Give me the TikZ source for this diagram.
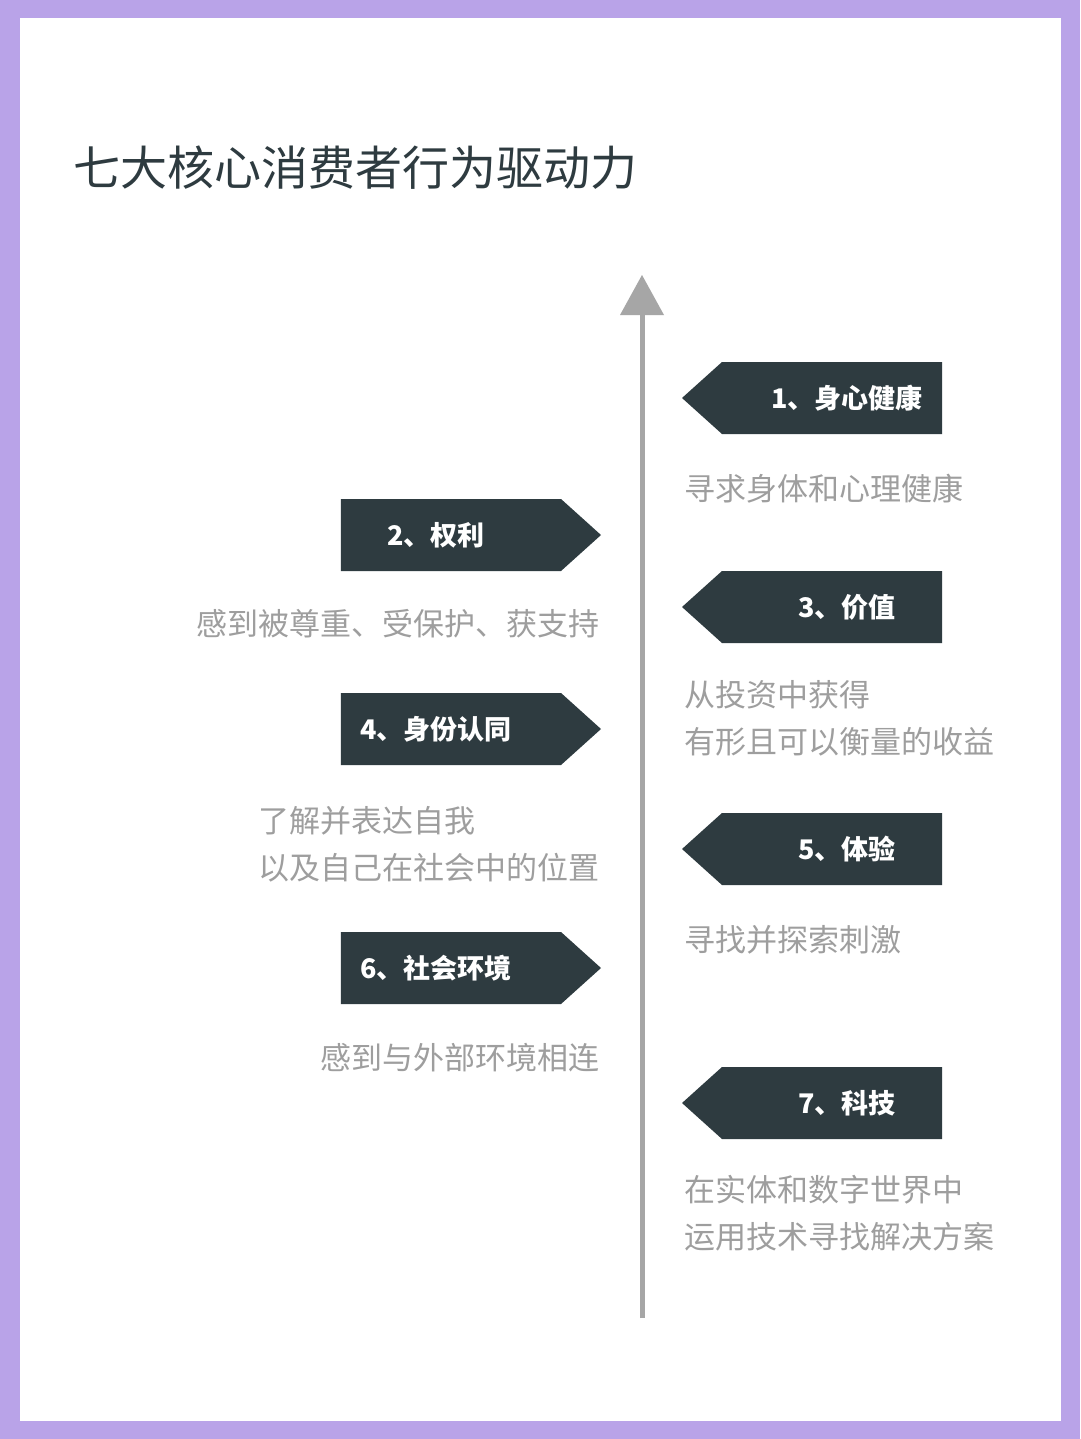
\documentclass[tikz,border=0pt]{standalone}
\usepackage{fontspec}
\setmainfont{Noto Sans CJK SC}
\usetikzlibrary{shapes.symbols}
\definecolor{tagdark}{HTML}{2E3B40}
\definecolor{axisgray}{HTML}{A6A6A6}
\definecolor{descgray}{HTML}{9E9E9E}
\definecolor{frame}{HTML}{B9A3E8}
\tikzset{
  tag/.style={signal, fill=tagdark, text=white, minimum width=260pt,
    minimum height=72pt, signal pointer angle=84, inner sep=0pt,
    font=\fontsize{27}{32}\selectfont\bfseries},
  tagleft/.style={tag, signal to=west, signal from=nowhere},
  tagright/.style={tag, signal to=east, signal from=nowhere},
  desc/.style={text=descgray, font=\fontsize{31}{47}\selectfont, inner sep=0pt}
}
\begin{document}
\begin{tikzpicture}[x=1pt,y=-1pt]
  \fill[frame] (0,0) rectangle (1080,1439);
  \fill[white] (20,18) rectangle (1061,1421);
  \useasboundingbox (0,0) rectangle (1080,1439);

  % title
  \node[anchor=west, text=tagdark, font=\fontsize{47}{52}\selectfont] (title) at (70,168) {七大核心消费者行为驱动力};

  % axis
  \coordinate (axbot) at (642,1318);
  \coordinate (axtop) at (642,312);
  \draw[axisgray, line width=5pt] (axbot) -- (axtop);
  \fill[axisgray] (620,315) -- (642,275) -- (664,315) -- cycle;

  % right side
  \node[tagleft] (t1) at (832,398) {\hspace*{30pt}1、身心健康};
  \node[desc, anchor=west] (d1) at (684,489) {寻求身体和心理健康};
  \node[tagleft] (t3) at (832,607) {\hspace*{30pt}3、价值};
  \node[desc, anchor=north west, align=left] (d3) at (684,680) {从投资中获得\\有形且可以衡量的收益};
  \node[tagleft] (t5) at (832,849) {\hspace*{30pt}5、体验};
  \node[desc, anchor=west] (d5) at (684,940) {寻找并探索刺激};
  \node[tagleft] (t7) at (832,1103) {\hspace*{30pt}7、科技};
  \node[desc, anchor=north west, align=left] (d7) at (684,1175) {在实体和数字世界中\\运用技术寻找解决方案};

  % left side
  \node[tagright] (t2) at (451,535) {2、权利\hspace*{30pt}};
  \node[desc, anchor=east] (d2) at (600,624) {感到被尊重、受保护、获支持};
  \node[tagright] (t4) at (451,729) {4、身份认同\hspace*{30pt}};
  \node[desc, anchor=north east, align=left] (d4) at (600,806) {了解并表达自我\\以及自己在社会中的位置};
  \node[tagright] (t6) at (451,968) {6、社会环境\hspace*{30pt}};
  \node[desc, anchor=east] (d6) at (600,1058) {感到与外部环境相连};
\end{tikzpicture}
\end{document}
